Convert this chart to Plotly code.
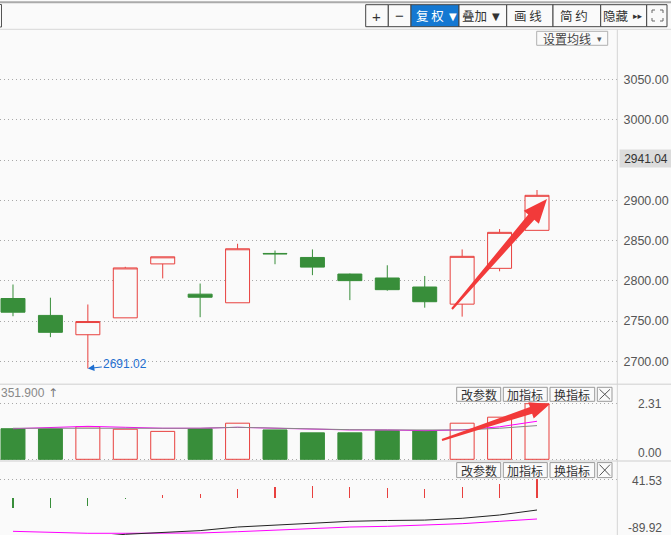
import math
import plotly.graph_objects as go

W, H = 671, 535

# ---------------- data ----------------
idx = list(range(15))
opens  = [2778.0, 2757.0, 2733.0, 2754.0, 2821.0, 2783.4, 2772.7, 2834.0, 2829.0, 2808.4, 2803.5, 2792.3, 2771.0, 2815.5, 2862.7]
highs  = [2795.4, 2779.0, 2770.6, 2817.4, 2829.8, 2796.6, 2846.0, 2837.6, 2839.0, 2809.0, 2819.3, 2806.0, 2839.0, 2864.3, 2912.8]
lows   = [2756.0, 2730.0, 2691.02, 2754.0, 2803.0, 2754.8, 2772.7, 2820.6, 2807.0, 2776.0, 2787.7, 2766.6, 2755.5, 2811.8, 2862.7]
closes = [2761.0, 2736.0, 2749.4, 2816.0, 2829.8, 2779.6, 2839.8, 2833.5, 2817.0, 2800.2, 2789.0, 2774.0, 2830.4, 2860.2, 2906.2]

volumes  = [1.27, 1.27, 1.35, 1.25, 1.16, 1.27, 1.50, 1.22, 1.10, 1.10, 1.19, 1.18, 1.50, 1.75, 2.31]
vol_ma5  = [1.27, 1.31, 1.37, 1.33, 1.29, 1.29, 1.33, 1.29, 1.25, 1.22, 1.22, 1.19, 1.22, 1.35, 1.58]
vol_ma10 = [1.29, 1.29, 1.29, 1.29, 1.29, 1.29, 1.33, 1.29, 1.27, 1.23, 1.22, 1.22, 1.22, 1.29, 1.40]

macd_hist = [-23.3, -23.3, -19.4, -2.5, 5.7, 8.0, 19.4, 23.9, 26.2, 23.9, 21.7, 19.4, 23.9, 30.8, 41.53]
dif = [-88.8, -91.0, -91.3, -83.9, -79.3, -75.5, -67.3, -62.7, -58.0, -54.3, -52.5, -51.5, -47.4, -39.9, -28.5]
dea = [-77.1, -79.3, -81.6, -81.6, -81.6, -80.9, -78.0, -74.8, -70.2, -67.3, -65.7, -63.4, -59.7, -54.3, -49.0]

price_ticks = [2700, 2750, 2800, 2850, 2900, 2950, 3000, 3050]
price_ticktext = ["2700.00", "2750.00", "2800.00", "2850.00", "2900.00", "", "3000.00", "3050.00"]
last_label = "2941.04"
low_label = "2691.02"
vol_label = "351.900"
vol_top, vol_bot = 2.31, 0.00
macd_top, macd_bot = 41.53, -89.92

# ---------------- style ----------------
BG = "#fafafa"
RED = "#e8403e"
GREEN = "#388e3a"
GRID = "#a8a8a8"
NUMFONT = "Liberation Sans, Arial, sans-serif"
CJK = "Noto Sans CJK SC"

def px(x):
    return x / W

def py(y):
    return 1 - y / H

fig = go.Figure()

fig.add_trace(go.Candlestick(
    x=idx, open=opens, high=highs, low=lows, close=closes,
    xaxis="x", yaxis="y",
    increasing=dict(line=dict(color=RED, width=1), fillcolor=BG),
    decreasing=dict(line=dict(color=GREEN, width=1), fillcolor=GREEN),
    whiskerwidth=0, hoverinfo="skip", showlegend=False,
))

up = [c >= o for o, c in zip(opens, closes)]
fig.add_trace(go.Bar(
    x=idx, y=volumes, xaxis="x2", yaxis="y2", width=0.64,
    marker=dict(color=[BG if u else GREEN for u in up],
                line=dict(color=[RED if u else GREEN for u in up], width=1)),
    hoverinfo="skip", showlegend=False,
))
fig.add_trace(go.Scatter(x=idx, y=vol_ma5, xaxis="x2", yaxis="y2", mode="lines",
                         line=dict(color="#ff00ff", width=1), hoverinfo="skip", showlegend=False))
fig.add_trace(go.Scatter(x=idx, y=vol_ma10, xaxis="x2", yaxis="y2", mode="lines",
                         line=dict(color="#888888", width=1), hoverinfo="skip", showlegend=False))

fig.add_trace(go.Bar(
    x=idx, y=macd_hist, xaxis="x3", yaxis="y3", width=0.03,
    marker=dict(color=[RED if v > 0 else GREEN for v in macd_hist], line=dict(width=0)),
    hoverinfo="skip", showlegend=False,
))
fig.add_trace(go.Scatter(x=idx, y=dea, xaxis="x3", yaxis="y3", mode="lines",
                         line=dict(color="#ff00ff", width=1), hoverinfo="skip", showlegend=False))
fig.add_trace(go.Scatter(x=idx, y=dif, xaxis="x3", yaxis="y3", mode="lines",
                         line=dict(color="#222222", width=1), hoverinfo="skip", showlegend=False))

xr = [-0.347, 16.137]
xdom = [0, 617 / W]
xcommon = dict(range=xr, domain=xdom, showgrid=False, zeroline=False, showticklabels=False,
               showline=False, fixedrange=True)

shapes = []
annotations = []

def hline(y, x0=0, x1=W, color="#d8d8d8", width=1):
    shapes.append(dict(type="line", xref="paper", yref="paper", x0=px(x0), x1=px(x1),
                       y0=py(y), y1=py(y), line=dict(color=color, width=width)))

def rect(x0, y0, x1, y1, line="#444", fill=BG, width=1):
    shapes.append(dict(type="rect", xref="paper", yref="paper", x0=px(x0), x1=px(x1),
                       y0=py(y1), y1=py(y0), line=dict(color=line, width=width), fillcolor=fill, layer="above"))

def text(x, y, s, size=12, color="#333", family=CJK, xanchor="center", **kw):
    annotations.append(dict(x=px(x), y=py(y), xref="paper", yref="paper", text=s, showarrow=False,
                            xanchor=xanchor, yanchor="middle", font=dict(size=size, color=color, family=family), **kw))

def pathstr(pts):
    return "M " + " L ".join(f"{px(x):.5f},{py(y):.5f}" for x, y in pts) + " Z"

def arrow(tx, ty, hx, hy, tw, nw, hw, hl, color="#f23a3a"):
    dx, dy = hx - tx, hy - ty
    L = math.hypot(dx, dy)
    ux, uy = dx / L, dy / L
    nx, ny = -uy, ux
    Nx, Ny = hx - ux * hl, hy - uy * hl
    pts = [(tx + nx * tw / 2, ty + ny * tw / 2), (Nx + nx * nw / 2, Ny + ny * nw / 2),
           (Nx + nx * hw / 2, Ny + ny * hw / 2), (hx, hy),
           (Nx - nx * hw / 2, Ny - ny * hw / 2), (Nx - nx * nw / 2, Ny - ny * nw / 2),
           (tx - nx * tw / 2, ty - ny * tw / 2)]
    shapes.append(dict(type="path", xref="paper", yref="paper", path=pathstr(pts),
                       fillcolor=color, line=dict(width=0), layer="above"))

# frame lines
hline(2.2, color="#aaaaaa", width=2)
hline(29.3, color="#d8d8d8", width=1)
hline(384.3, color="#dddddd", width=1.5)
hline(461.0, color="#dddddd", width=1.5)
shapes.append(dict(type="line", xref="paper", yref="paper", x0=px(617.3), x1=px(617.3),
                   y0=py(29.5), y1=0, line=dict(color="#d4d4d4", width=1)))
rect(-5, 4.5, 1.5, 27, line="#555")

# toolbar
buttons = [(365.7, 388.3, "+", None), (388.3, 411.0, "−", None), (411.0, 459.0, "复 权", "blue"),
           (459.0, 506.7, "叠加", None), (506.7, 553.0, "画 线", None), (553.0, 600.7, "简 约", None),
           (600.7, 646.7, "隐藏", None), (646.7, 667.0, "", None)]
for x0, x1, s, kind in buttons:
    rect(x0, 4.7, x1, 26.7, line="#444", fill="#1478d2" if kind == "blue" else BG)
text(376.9, 16, "+", size=15, color="#333", family=NUMFONT)
text(399.6, 15.5, "−", size=15, color="#333", family=NUMFONT)
text(429.5, 15.7, "复 权", size=12.5, color="#ffffff")
text(452.5, 16, "▼", size=10, color="#ffffff", family="DejaVu Sans")
text(474.0, 15.7, "叠加", size=12.5, color="#333")
text(496.0, 16, "▼", size=10, color="#333", family="DejaVu Sans")
text(527.5, 15.7, "画 线", size=12.5, color="#333")
text(573.5, 15.7, "简 约", size=12.5, color="#333")
text(615.5, 15.7, "隐藏", size=12.5, color="#333")
text(637.5, 16, "▸▸", size=9, color="#333", family="DejaVu Sans")
shapes.append(dict(type="path", xref="paper", yref="paper",
                   path=(f"M {px(652)},{py(13)} L {px(652)},{py(10)} L {px(655)},{py(10)} "
                         f"M {px(660)},{py(10)} L {px(663)},{py(10)} L {px(663)},{py(13)} "
                         f"M {px(663)},{py(18)} L {px(663)},{py(21)} L {px(660)},{py(21)} "
                         f"M {px(655)},{py(21)} L {px(652)},{py(21)} L {px(652)},{py(18)}"),
                   line=dict(color="#666", width=1)))

# 设置均线
rect(536.7, 31.3, 607.7, 45.3, line="#b0b0b0")
text(567.0, 38.3, "设置均线", size=12, color="#444")
text(599.5, 38.8, "▾", size=9, color="#555", family="DejaVu Sans")

# panel buttons
for yc, (y0, y1) in [(394.3, (387.3, 401.3)), (470.0, (462.6, 477.6))]:
    for (x0, x1), s in zip([(456.7, 500.7), (503.3, 547.3), (550.0, 594.7)], ["改参数", "加指标", "换指标"]):
        rect(x0, y0, x1, y1, line="#9a9a9a")
        text((x0 + x1) / 2, yc, s, size=12, color="#333")
    rect(597.3, y0, 612.0, y1, line="#9a9a9a")
    shapes.append(dict(type="path", xref="paper", yref="paper",
                       path=(f"M {px(599.5)},{py(y0 + 2)} L {px(610)},{py(y1 - 2)} "
                             f"M {px(610)},{py(y0 + 2)} L {px(599.5)},{py(y1 - 2)}"),
                       line=dict(color="#555", width=1)))

# right-side labels
annotations.append(dict(x=px(619.3), y=2950, xref="paper", yref="y", text=last_label, showarrow=False,
                        xanchor="left", yanchor="middle", width=50, height=15, bgcolor="#dcdcdc",
                        yshift=1.3, font=dict(size=12, color="#333", family=NUMFONT)))
annotations.append(dict(x=px(664), y=vol_top, xref="paper", yref="y2", text=f"{vol_top:.2f}", showarrow=False,
                        xanchor="right", yanchor="middle", yshift=-0.6,
                        font=dict(size=12, color="#555", family=NUMFONT)))
annotations.append(dict(x=px(664), y=vol_bot, xref="paper", yref="y2", text=f"{vol_bot:.2f}", showarrow=False,
                        xanchor="right", yanchor="middle", yshift=6.6,
                        font=dict(size=12, color="#555", family=NUMFONT)))
annotations.append(dict(x=px(664), y=macd_top, xref="paper", yref="y3", text=f"{macd_top:.2f}", showarrow=False,
                        xanchor="right", yanchor="middle", yshift=-1.4,
                        font=dict(size=12, color="#555", family=NUMFONT)))
text(664, 527.5, f"{macd_bot:.2f}", size=12, color="#555", family=NUMFONT, xanchor="right")

# volume header
text(-1.5, 393.3, vol_label, size=12, color="#888", family=NUMFONT, xanchor="left")
text(52.5, 393.3, "↑", size=12, color="#777", family="DejaVu Sans")

# low label
annotations.append(dict(x=2, y=lows[2], xref="x", yref="y", text=low_label, showarrow=True,
                        ax=37.5, ay=-4.2, arrowhead=2, arrowsize=1.3, arrowwidth=1,
                        arrowcolor="#1f6fd0", standoff=0,
                        font=dict(size=12, color="#1f6fd0", family=NUMFONT)))

# red arrows
arrow(452, 309, 547, 199, tw=2, nw=8, hw=20, hl=24)
arrow(442, 440, 550, 404, tw=2, nw=7, hw=17, hl=20)

layout = dict(
    width=W, height=H, margin=dict(l=0, r=0, t=0, b=0), autosize=False,
    paper_bgcolor=BG, plot_bgcolor=BG, showlegend=False, hovermode=False,
    boxgap=0.36, boxgroupgap=0, bargap=0,
    font=dict(family=NUMFONT),
    xaxis=dict(**xcommon, anchor="y", rangeslider=dict(visible=False)),
    xaxis2=dict(**xcommon, anchor="y2"),
    xaxis3=dict(**xcommon, anchor="y3"),
    yaxis=dict(domain=[1 - 384 / H, 1 - 29.5 / H], range=[2671.8, 3112.2], side="right",
               tickvals=price_ticks, ticktext=price_ticktext, showgrid=True, gridcolor=GRID,
               griddash="1px,3px", gridwidth=1, zeroline=False, showline=False, ticks="outside",
               ticklen=3, tickcolor="rgba(0,0,0,0)", tickfont=dict(size=12.5, color="#555", family=NUMFONT),
               automargin=False, fixedrange=True, anchor="x"),
    yaxis2=dict(domain=[1 - 461 / H, 1 - 385 / H], range=[-0.0706, 3.0868], tickvals=[vol_bot, vol_top],
                showticklabels=False, showgrid=True, gridcolor=GRID, griddash="1px,3px", zeroline=False,
                showline=False, automargin=False, fixedrange=True, anchor="x2"),
    yaxis3=dict(domain=[0, 1 - 462 / H], range=[-85.5, 80.94], tickvals=[macd_top, macd_bot],
                showticklabels=False, showgrid=True, gridcolor=GRID, griddash="1px,3px", zeroline=False,
                showline=False, automargin=False, fixedrange=True, anchor="x3"),
    shapes=shapes, annotations=annotations,
)
fig.update_layout(**layout)
fig.write_html("out.html", config={"displayModeBar": False, "staticPlot": True})
